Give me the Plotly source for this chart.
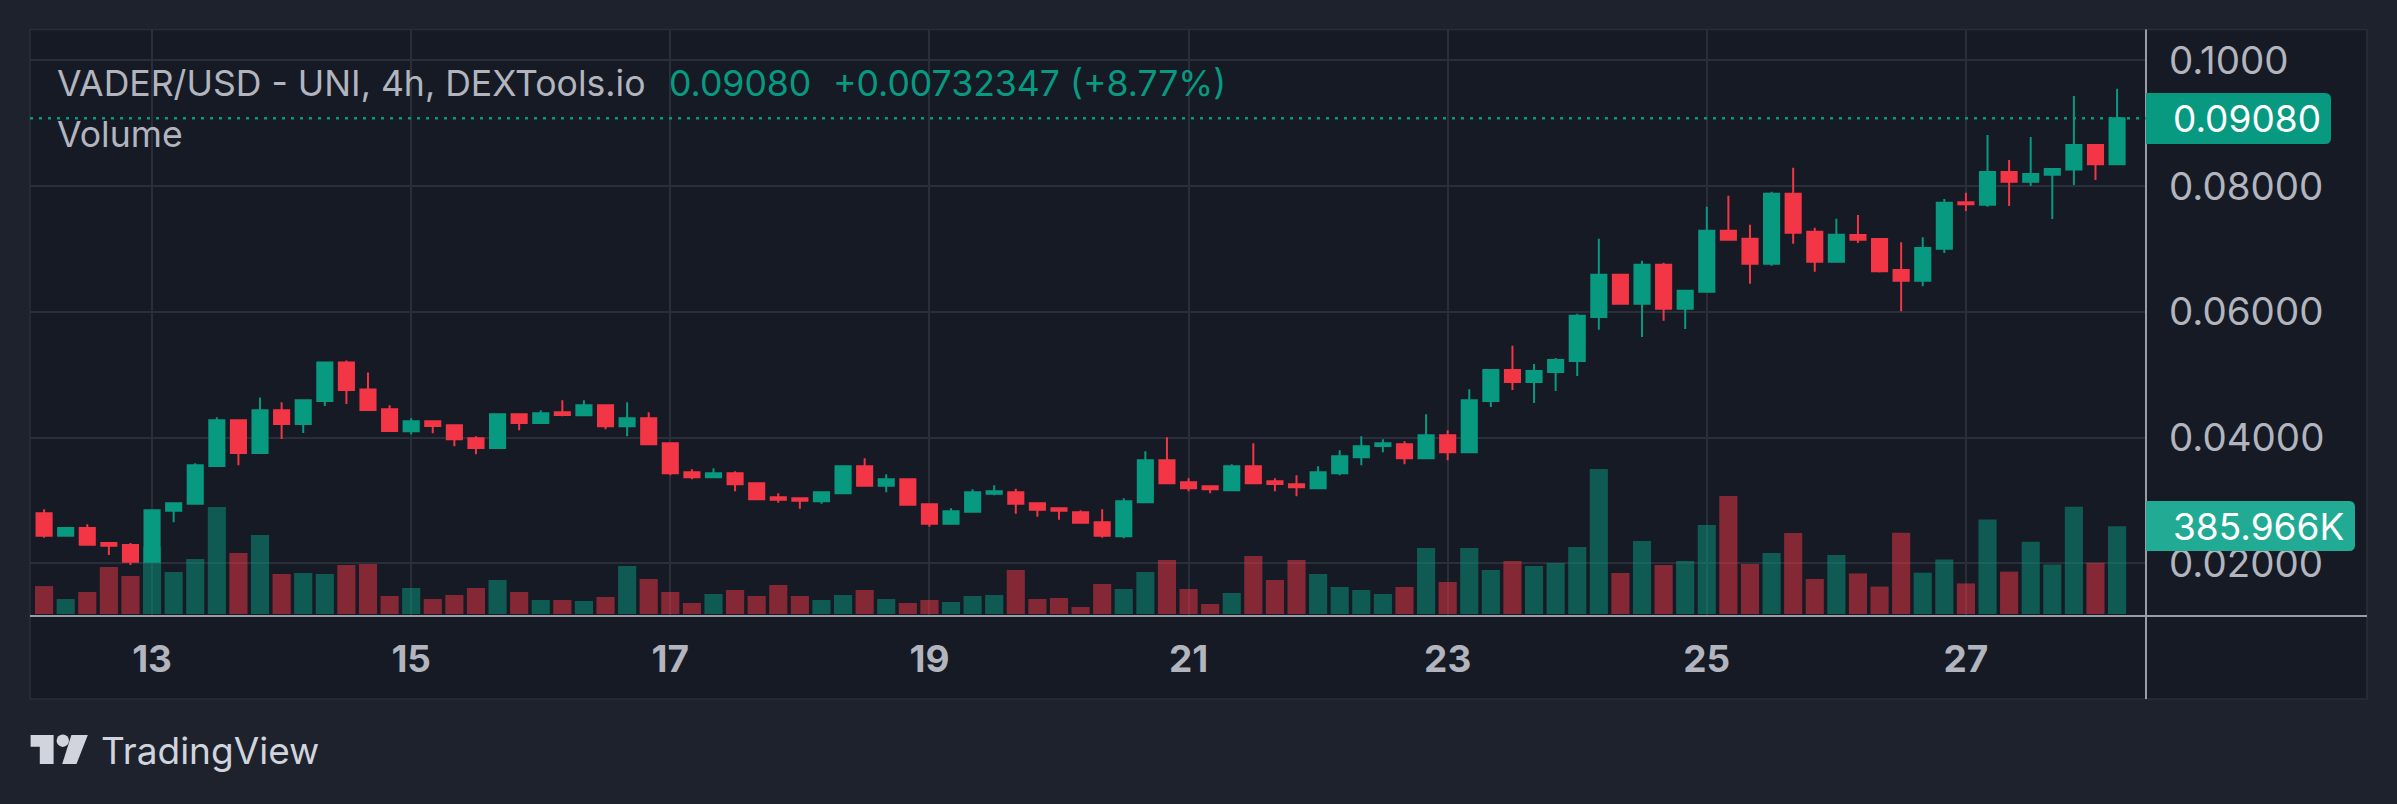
import plotly.graph_objects as go
import pandas as pd

# ---------------- data ----------------
times = pd.date_range("2023-05-12 04:00", periods=97, freq="4h")

open_ = [0.02799, 0.02439, 0.02561, 0.02323, 0.02291, 0.02026, 0.02836, 0.02947, 0.03550, 0.04275,
         0.03757, 0.04434, 0.04217, 0.04582, 0.05196, 0.04767, 0.04450, 0.04101, 0.04259, 0.04196,
         0.03989, 0.03836, 0.04370, 0.04233, 0.04402, 0.04354, 0.04513, 0.04180, 0.04307, 0.03910,
         0.03450, 0.03370, 0.03434, 0.03275, 0.03053, 0.03037, 0.02990, 0.03116, 0.03545, 0.03233,
         0.03339, 0.02942, 0.02630, 0.02820, 0.03106, 0.03132, 0.02958, 0.02878, 0.02815, 0.02656,
         0.02430, 0.02971, 0.03639, 0.03289, 0.03226, 0.03162, 0.03544, 0.03305, 0.03257, 0.03194,
         0.03432, 0.03687, 0.03867, 0.03894, 0.03671, 0.04037, 0.03767, 0.04584, 0.05077, 0.04886,
         0.05045, 0.05220, 0.05920, 0.06589, 0.06127, 0.06748, 0.06048, 0.06318, 0.07289, 0.07162,
         0.06764, 0.07878, 0.07273, 0.06796, 0.07221, 0.07158, 0.06664, 0.06493, 0.07005, 0.07744,
         0.07704, 0.08222, 0.08068, 0.08182, 0.08262, 0.08654, 0.08348]
high = [0.02862, 0.02577, 0.02624, 0.02323, 0.02323, 0.02847, 0.02958, 0.03593, 0.04323, 0.04275,
        0.04640, 0.04561, 0.04608, 0.05212, 0.05228, 0.05037, 0.04513, 0.04307, 0.04275, 0.04196,
        0.04021, 0.04370, 0.04370, 0.04434, 0.04593, 0.04593, 0.04529, 0.04561, 0.04402, 0.03926,
        0.03497, 0.03513, 0.03466, 0.03275, 0.03116, 0.03037, 0.03148, 0.03545, 0.03672, 0.03418,
        0.03339, 0.02942, 0.02878, 0.03180, 0.03243, 0.03188, 0.02974, 0.02878, 0.02847, 0.02862,
        0.03035, 0.03783, 0.04005, 0.03353, 0.03226, 0.03576, 0.03910, 0.03353, 0.03400, 0.03544,
        0.03798, 0.04021, 0.03973, 0.03942, 0.04371, 0.04117, 0.04769, 0.05077, 0.05459, 0.05172,
        0.05268, 0.05968, 0.07162, 0.06589, 0.06812, 0.06780, 0.06334, 0.07671, 0.07846, 0.07385,
        0.07910, 0.08292, 0.07337, 0.07480, 0.07539, 0.07175, 0.07107, 0.07187, 0.07795, 0.07892,
        0.08813, 0.08415, 0.08779, 0.08273, 0.09433, 0.08654, 0.09547]
low = [0.02407, 0.02439, 0.02296, 0.02132, 0.01974, 0.02026, 0.02656, 0.02947, 0.03550, 0.03561,
       0.03757, 0.03979, 0.04074, 0.04503, 0.04534, 0.04439, 0.04090, 0.04053, 0.04069, 0.03862,
       0.03736, 0.03836, 0.04116, 0.04233, 0.04339, 0.04354, 0.04132, 0.04021, 0.03894, 0.03402,
       0.03339, 0.03370, 0.03148, 0.03021, 0.02963, 0.02868, 0.02947, 0.03116, 0.03233, 0.03132,
       0.02931, 0.02582, 0.02630, 0.02804, 0.03085, 0.02788, 0.02741, 0.02693, 0.02630, 0.02407,
       0.02398, 0.02971, 0.03273, 0.03146, 0.03114, 0.03162, 0.03273, 0.03146, 0.03066, 0.03194,
       0.03400, 0.03560, 0.03767, 0.03576, 0.03671, 0.03639, 0.03767, 0.04488, 0.04759, 0.04552,
       0.04743, 0.04981, 0.05714, 0.06111, 0.05602, 0.05857, 0.05729, 0.06318, 0.07130, 0.06446,
       0.06732, 0.07082, 0.06637, 0.06796, 0.07096, 0.06624, 0.06010, 0.06408, 0.06937, 0.07602,
       0.07670, 0.07682, 0.08000, 0.07477, 0.08017, 0.08097, 0.08348]
close = [0.02439, 0.02561, 0.02296, 0.02280, 0.02026, 0.02847, 0.02958, 0.03561, 0.04275, 0.03757,
         0.04434, 0.04217, 0.04593, 0.05196, 0.04757, 0.04439, 0.04106, 0.04259, 0.04185, 0.03974,
         0.03836, 0.04370, 0.04233, 0.04386, 0.04360, 0.04513, 0.04180, 0.04307, 0.03894, 0.03434,
         0.03370, 0.03434, 0.03259, 0.03021, 0.03011, 0.02995, 0.03132, 0.03545, 0.03233, 0.03339,
         0.02931, 0.02630, 0.02831, 0.03132, 0.03148, 0.02947, 0.02852, 0.02836, 0.02645, 0.02439,
         0.02987, 0.03639, 0.03273, 0.03194, 0.03178, 0.03544, 0.03273, 0.03263, 0.03210, 0.03448,
         0.03703, 0.03862, 0.03910, 0.03671, 0.04037, 0.03767, 0.04594, 0.05077, 0.04886, 0.05061,
         0.05236, 0.05936, 0.06589, 0.06127, 0.06748, 0.06048, 0.06334, 0.07289, 0.07146, 0.06764,
         0.07878, 0.07257, 0.06796, 0.07225, 0.07147, 0.06646, 0.06493, 0.07016, 0.07733, 0.07710,
         0.08222, 0.08068, 0.08193, 0.08273, 0.08654, 0.08348, 0.09080]
volume_k = [122.8, 66.0, 96.8, 206.8, 167.2, 294.8, 184.8, 242.0, 470.8, 268.4,
            347.6, 176.0, 180.4, 176.0, 215.6, 220.0, 79.2, 114.4, 66.0, 83.6,
            114.4, 149.6, 96.8, 61.6, 61.6, 57.2, 74.8, 211.2, 154.0, 96.8,
            48.4, 88.0, 105.6, 79.2, 127.6, 79.2, 61.6, 83.6, 105.6, 66.0,
            48.4, 61.6, 52.8, 79.2, 83.6, 193.6, 66.0, 70.4, 30.8, 132.0,
            110.0, 184.8, 237.6, 110.0, 44.0, 92.4, 255.2, 149.6, 237.6, 176.0,
            118.8, 105.6, 88.0, 118.8, 290.4, 140.8, 290.4, 193.6, 233.2, 211.2,
            224.4, 294.8, 638.0, 180.4, 321.2, 215.6, 233.2, 391.6, 519.2, 220.0,
            268.4, 356.4, 154.0, 259.6, 178.6, 120.6, 357.3, 181.7, 239.8, 134.6,
            415.4, 186.6, 318.0, 217.8, 471.7, 225.7, 385.966]

price_ticks = [0.02, 0.04, 0.06, 0.08, 0.10]
price_tick_text = ["0.02000", "0.04000", "0.06000", "0.08000", "0.1000"]
date_ticks = ["2023-05-13", "2023-05-15", "2023-05-17", "2023-05-19",
              "2023-05-21", "2023-05-23", "2023-05-25", "2023-05-27"]
date_tick_text = ["13", "15", "17", "19", "21", "23", "25", "27"]

title_text = "VADER/USD - UNI, 4h, DEXTools.io"
last_price_text = "0.09080"
change_text = "+0.00732347 (+8.77%)"
volume_label = "385.966K"

# ---------------- style ----------------
W, H = 2397, 804
PL, PR, PT, PB = 30, 2146, 30, 616  # plot area in pixels
UP, DOWN = "#089981", "#F23645"
VOL_UP, VOL_DOWN = "rgba(8,153,129,0.5)", "rgba(242,54,69,0.5)"
OUTER, PANEL, GRID = "#1E222D", "#161A25", "#2A2E39"
AXIS_LINE, TXT = "#9A9DA6", "#B2B5BE"
FONT = "Inter"


def px(x):
    return (x - PL) / (PR - PL)


def py(y):
    return (PB - y) / (PB - PT)


vol_colors = [VOL_UP if c >= o else VOL_DOWN for o, c in zip(open_, close)]

fig = go.Figure()
fig.add_trace(go.Bar(
    x=times, y=volume_k, marker=dict(color=vol_colors, line=dict(width=0)),
    width=0.84 * 4 * 3600 * 1000, yaxis="y2", hoverinfo="skip", showlegend=False))
fig.add_trace(go.Candlestick(
    x=times, open=open_, high=high, low=low, close=close,
    increasing=dict(line=dict(color=UP, width=2), fillcolor=UP),
    decreasing=dict(line=dict(color=DOWN, width=2), fillcolor=DOWN),
    whiskerwidth=0, showlegend=False, yaxis="y"))

shapes = []
# panel background
shapes.append(dict(type="rect", xref="paper", yref="paper", layer="below",
                   x0=px(30), x1=px(2367), y0=py(699), y1=py(29.5),
                   fillcolor=PANEL, line=dict(color=GRID, width=1.5)))
# axis lines
shapes.append(dict(type="line", xref="paper", yref="paper", x0=px(2146), x1=px(2146),
                   y0=py(29.5), y1=py(699), line=dict(color=AXIS_LINE, width=2)))
shapes.append(dict(type="line", xref="paper", yref="paper", x0=px(30), x1=px(2367),
                   y0=py(616), y1=py(616), line=dict(color=AXIS_LINE, width=2)))
# last price dotted line
shapes.append(dict(type="line", xref="paper", yref="y", x0=0, x1=1,
                   y0=close[-1], y1=close[-1], line=dict(color=UP, width=2.5, dash="3px,6px")))


def rrect(x0, x1, y0, y1, r):
    return (f"M {px(x0)},{py(y0)} L {px(x1 - r)},{py(y0)} Q {px(x1)},{py(y0)} {px(x1)},{py(y0 + r)} "
            f"L {px(x1)},{py(y1 - r)} Q {px(x1)},{py(y1)} {px(x1 - r)},{py(y1)} L {px(x0)},{py(y1)} Z")


shapes.append(dict(type="path", xref="paper", yref="paper", path=rrect(2146, 2331, 93, 144, 6),
                   fillcolor=UP, line=dict(width=0)))
shapes.append(dict(type="path", xref="paper", yref="paper", path=rrect(2146, 2355, 501, 551, 6),
                   fillcolor="#22AB94", line=dict(width=0)))
# TradingView logo
LOGO = "#D1D4DC"
shapes.append(dict(type="path", xref="paper", yref="paper",
                   path=f"M {px(30.6)},{py(735)} L {px(53.6)},{py(735)} L {px(53.6)},{py(764)} "
                        f"L {px(39.8)},{py(764)} L {px(39.8)},{py(746.7)} L {px(30.6)},{py(746.7)} Z",
                   fillcolor=LOGO, line=dict(width=0)))
shapes.append(dict(type="circle", xref="paper", yref="paper", x0=px(56.6), x1=px(69),
                   y0=py(746.9), y1=py(734.5), fillcolor=LOGO, line=dict(width=0)))
shapes.append(dict(type="path", xref="paper", yref="paper",
                   path=f"M {px(71.4)},{py(735)} L {px(87.8)},{py(735)} L {px(76.5)},{py(764)} "
                        f"L {px(62.2)},{py(764)} Z",
                   fillcolor=LOGO, line=dict(width=0)))

annotations = [
    dict(text=title_text, x=px(55), y=py(83), xref="paper", yref="paper", xanchor="left",
         yanchor="middle", showarrow=False, font=dict(family=FONT, size=35.6, color=TXT)),
    dict(text=last_price_text, x=px(667), y=py(83), xref="paper", yref="paper", xanchor="left",
         yanchor="middle", showarrow=False, font=dict(family=FONT, size=35.6, color=UP)),
    dict(text=change_text, x=px(831), y=py(83), xref="paper", yref="paper", xanchor="left",
         yanchor="middle", showarrow=False, font=dict(family=FONT, size=35.6, color=UP)),
    dict(text="Volume", x=px(55), y=py(134), xref="paper", yref="paper", xanchor="left",
         yanchor="middle", showarrow=False, font=dict(family=FONT, size=35.6, color=TXT)),
    dict(text=last_price_text, x=px(2171), y=py(118.5), xref="paper", yref="paper", xanchor="left",
         yanchor="middle", showarrow=False, font=dict(family=FONT, size=37, color="#FFFFFF")),
    dict(text=volume_label, x=px(2171), y=py(526), xref="paper", yref="paper", xanchor="left",
         yanchor="middle", showarrow=False, font=dict(family=FONT, size=37, color="#FFFFFF")),
    dict(text="TradingView", x=px(99), y=py(750), xref="paper", yref="paper", xanchor="left",
         yanchor="middle", showarrow=False, font=dict(family=FONT, size=37, color=LOGO)),
]

vol_per_px = 4.4  # thousands per pixel
fig.update_layout(
    width=W, height=H,
    margin=dict(l=PL, r=W - PR, t=PT, b=H - PB, pad=0),
    paper_bgcolor=OUTER, plot_bgcolor=PANEL,
    showlegend=False, boxgap=0.3, boxgroupgap=0,
    xaxis=dict(type="date", range=["2023-05-12 01:23:24", "2023-05-28 09:21:30"],
               tickvals=date_ticks, ticktext=date_tick_text,
               showgrid=True, gridcolor=GRID, gridwidth=2, zeroline=False, showline=False,
               ticks="", ticklabelstandoff=18,
               tickfont=dict(family=FONT, size=37, color=TXT, weight="bold"),
               rangeslider=dict(visible=False), fixedrange=True),
    yaxis=dict(side="right", range=[0.011636, 0.104818], tickvals=price_ticks, ticktext=price_tick_text,
               showgrid=True, gridcolor=GRID, gridwidth=2, zeroline=False, showline=False,
               ticks="", ticklabelstandoff=22,
               tickfont=dict(family=FONT, size=38.5, color=TXT)),
    yaxis2=dict(overlaying="y", range=[-2 * vol_per_px, (PB - PT - 2) * vol_per_px],
                visible=False, showgrid=False, zeroline=False),
    shapes=shapes, annotations=annotations,
)

fig.write_html("out.html", config={"displayModeBar": False})
